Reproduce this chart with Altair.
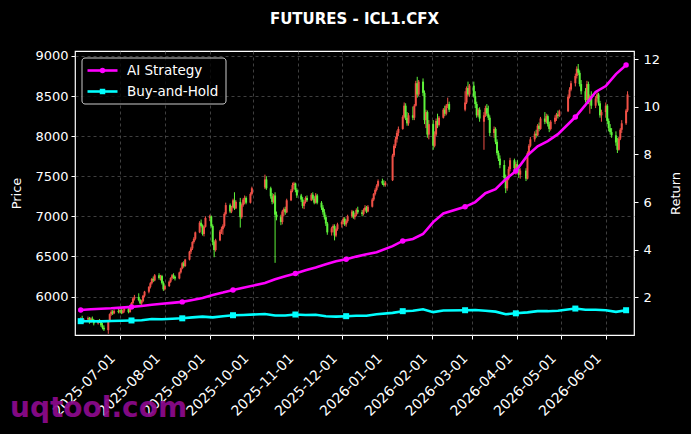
import altair as alt
import pandas as pd

# ---------------- data ----------------
START, END = "2025-06-04", "2026-06-16"
HOLIDAYS = ["2025-10-01", "2025-10-02", "2025-10-03", "2025-10-06", "2025-10-07", "2025-10-08",
            "2026-01-01", "2026-01-02", "2026-02-16", "2026-02-17", "2026-02-18", "2026-02-19",
            "2026-02-20", "2026-02-23", "2026-04-06", "2026-05-01", "2026-05-04", "2026-05-05"]

# (open, high, low, close) per trading day, month by month
ohlc_2025_06 = [(5690,5740,5660,5720),(5720,5760,5690,5700),(5700,5730,5670,5715),(5715,5750,5690,5730),(5730,5745,5660,5680),
                (5680,5740,5670,5725),(5725,5750,5690,5700),(5700,5720,5640,5665),(5665,5710,5650,5695),(5695,5720,5670,5690),
                (5690,5700,5620,5640),(5640,5670,5590,5610),(5610,5640,5570,5590),(5580,5700,5535,5690),(5690,5790,5680,5780),
                (5780,5830,5760,5810),(5810,5830,5770,5790),(5790,5840,5780,5820),(5820,5850,5790,5810)]
ohlc_2025_07 = [(5810,5840,5790,5830),(5830,5850,5780,5795),(5795,5840,5785,5825),(5825,5860,5800,5845),(5845,5860,5790,5805),
                (5805,5860,5800,5850),(5850,5930,5840,5920),(5920,5990,5900,5975),(5975,6020,5950,5995),(5995,6040,5940,5955),
                (5955,5970,5900,5915),(5915,5960,5890,5945),(5945,6020,5930,6010),(6010,6070,5990,6060),(6060,6130,6040,6120),
                (6120,6180,6100,6165),(6165,6230,6150,6220),(6220,6250,6180,6200),(6200,6280,6190,6265),(6265,6290,6210,6230),
                (6230,6270,6200,6255),(6255,6270,6150,6170),(6170,6190,6070,6090)]
ohlc_2025_08 = [(6090,6150,6075,6130),(6130,6200,6120,6185),(6185,6240,6170,6230),(6230,6280,6210,6265),(6265,6290,6220,6245),
                (6245,6260,6200,6225),(6225,6310,6215,6300),(6300,6360,6285,6350),(6350,6430,6340,6415),(6415,6440,6360,6380),
                (6380,6470,6370,6460),(6460,6570,6450,6560),(6560,6620,6530,6600),(6600,6690,6580,6680),(6680,6740,6660,6720),
                (6720,6810,6700,6800),(6800,6940,6790,6920),(6920,6960,6860,6880),(6880,6900,6760,6780),(6780,6890,6750,6870),
                (6870,7000,6860,6980)]
ohlc_2025_09 = [(6980,7020,6940,7000),(7000,7010,6860,6880),(6880,6900,6640,6680),(6680,6700,6490,6580),(6580,6720,6560,6700),
                (6700,6830,6690,6810),(6810,6870,6780,6840),(6840,6900,6770,6880),(6880,7050,6860,7030),(7030,7170,7010,7140),
                (7140,7160,7040,7060),(7060,7130,7040,7110),(7110,7220,7100,7200),(7200,7300,7080,7100),(7100,7200,7090,7180),
                (7180,7230,6860,6990),(6990,7160,6970,7140),(7140,7230,7120,7210),(7210,7260,7150,7230),(7230,7250,7150,7170),
                (7170,7300,7160,7280),(7280,7370,7260,7350)]
ohlc_2025_10 = [(7360,7520,7340,7460),(7460,7500,7330,7350),(7350,7370,7220,7250),(7250,7290,7150,7180),(7180,7280,7160,7260),
                (7260,7300,6420,7020),(7020,7060,6950,6990),(6990,7020,6890,6930),(6930,7080,6900,7060),(7060,7110,7000,7090),
                (7090,7120,7020,7050),(7050,7220,7040,7200),(7200,7340,7190,7320),(7320,7420,7300,7390),(7390,7430,7340,7410),
                (7410,7420,7300,7330),(7330,7350,7230,7260)]
ohlc_2025_11 = [(7260,7280,7180,7210),(7210,7240,7100,7130),(7130,7200,7090,7180),(7180,7250,7160,7230),(7230,7260,7180,7200),
                (7200,7290,7190,7270),(7270,7300,7200,7220),(7220,7250,7150,7170),(7170,7290,7160,7260),(7260,7280,7150,7170),
                (7170,7190,7080,7110),(7110,7140,7020,7050),(7050,7090,6960,6990),(6990,7020,6880,6910),(6910,6930,6770,6800),
                (6800,6870,6760,6850),(6850,6900,6800,6880),(6880,6900,6700,6760),(6760,6860,6740,6840),(6840,6920,6820,6900)]
ohlc_2025_12 = [(6900,6950,6860,6930),(6930,6990,6900,6970),(6970,6990,6880,6900),(6900,6960,6870,6940),(6940,7020,6920,7000),
                (7000,7080,6980,7060),(7060,7070,6970,6990),(6990,7040,6960,7020),(7020,7100,7000,7080),(7080,7120,7030,7050),
                (7050,7080,7000,7030),(7030,7100,7010,7080),(7080,7140,7060,7110),(7110,7130,7040,7060),(7060,7140,7050,7120),
                (7120,7230,7110,7210),(7210,7290,7190,7280),(7280,7350,7260,7330),(7330,7400,7310,7380),(7380,7460,7360,7440),
                (7440,7470,7390,7410),(7410,7450,7370,7390),(7390,7440,7370,7420)]
ohlc_2026_01 = [(7450,7780,7440,7760),(7760,7900,7740,7880),(7880,7990,7850,7960),(7960,8070,7920,8040),(8040,8120,8000,8090),
                (8090,8260,8080,8240),(8240,8420,8220,8380),(8380,8410,8200,8230),(8230,8300,8130,8160),(8160,8290,8130,8260),
                (8260,8370,8200,8230),(8230,8400,8200,8380),(8380,8690,8370,8660),(8660,8740,8480,8520),(8520,8700,8500,8680),
                (8680,8720,8500,8540),(8540,8570,8150,8200),(8200,8330,8100,8300),(8300,8320,7980,8020),(8020,8200,7960,8150)]
ohlc_2026_02 = [(8150,8200,7830,7880),(7880,8060,7860,8020),(8020,8220,8000,8190),(8190,8280,8100,8140),(8140,8250,8120,8230),
                (8230,8350,8220,8330),(8330,8380,8250,8280),(8280,8400,8260,8380),(8380,8480,8350,8400),(8400,8430,8300,8330),
                (8330,8560,8310,8420),(8420,8620,8400,8600),(8600,8680,8500,8520),(8520,8650,8490,8630)]
ohlc_2026_03 = [(8630,8680,8480,8500),(8500,8560,8350,8400),(8400,8430,8230,8260),(8260,8350,8240,8330),(8330,8360,8180,8220),
                (8180,8300,7830,8260),(8260,8380,8240,8350),(8350,8400,8250,8280),(8280,8380,8200,8230),(8230,8260,8000,8040),
                (8040,8120,7980,8090),(8090,8110,7900,7930),(7930,7960,7760,7790),(7790,7820,7690,7720),(7720,7760,7600,7640),
                (7640,7700,7450,7480),(7480,7520,7290,7350),(7350,7500,7320,7470),(7470,7620,7450,7590),(7590,7730,7560,7700),
                (7700,7720,7560,7600),(7600,7680,7520,7650)]
ohlc_2026_04 = [(7650,7700,7560,7590),(7590,7640,7480,7520),(7520,7600,7470,7570),(7570,7600,7440,7470),(7470,7810,7460,7790),
                (7790,7900,7760,7880),(7880,7990,7860,7960),(7960,8060,7930,8030),(8030,8080,7980,8010),(8010,8150,8000,8130),
                (8130,8170,8060,8090),(8090,8240,8080,8220),(8220,8300,8150,8180),(8180,8280,8160,8250),(8250,8270,8120,8150),
                (8150,8180,8050,8090),(8090,8200,8070,8180),(8180,8260,8150,8230),(8230,8290,8190,8270),(8270,8320,8220,8250),
                (8250,8330,8240,8310)]
ohlc_2026_05 = [(8310,8520,8300,8490),(8490,8610,8470,8580),(8580,8690,8560,8660),(8660,8780,8620,8750),(8750,8870,8720,8840),
                (8840,8900,8760,8790),(8790,8820,8620,8650),(8650,8700,8520,8560),(8560,8600,8420,8450),(8450,8690,8430,8650),
                (8650,8680,8400,8430),(8430,8520,8280,8500),(8500,8560,8340,8380),(8380,8500,8350,8470),(8470,8560,8430,8520),
                (8520,8540,8380,8410),(8410,8440,8230,8260),(8260,8330,8180,8300)]
ohlc_2026_06 = [(8300,8420,8230,8380),(8380,8400,8150,8190),(8190,8220,8060,8100),(8100,8150,8020,8050),(8050,8100,7980,8010),
                (8010,8060,7880,7920),(7920,7980,7790,7830),(7830,7990,7820,7970),(7970,8100,7950,8080),(8080,8200,8040,8160),
                (8160,8340,8140,8320),(8320,8560,8300,8520)]

# strategy curves, sampled every 5th trading day (plus the last day)
ai_return = [1.47, 1.50, 1.52, 1.54, 1.57, 1.60, 1.64, 1.69, 1.73, 1.77, 1.81, 1.89, 1.97, 2.10, 2.20, 2.31, 2.40,
             2.60, 2.76, 2.89, 3.00, 3.14, 3.25, 3.39, 3.52, 3.60, 3.71, 3.81, 3.89, 4.15, 4.37, 4.45, 4.66, 5.16,
             5.52, 5.80, 6.00, 6.37, 6.54, 6.96, 7.30, 7.96, 8.34, 8.56, 8.85, 9.57, 10.08, 10.62, 10.87, 11.37,
             11.75, 11.78]
bh_return = [1.00, 1.00, 0.99, 1.01, 1.02, 1.03, 1.04, 1.09, 1.08, 1.10, 1.12, 1.16, 1.19, 1.16, 1.21, 1.25, 1.26,
             1.30, 1.24, 1.24, 1.28, 1.26, 1.27, 1.21, 1.19, 1.21, 1.23, 1.23, 1.29, 1.35, 1.42, 1.44, 1.50, 1.38,
             1.45, 1.46, 1.47, 1.44, 1.40, 1.29, 1.33, 1.37, 1.42, 1.42, 1.44, 1.53, 1.48, 1.48, 1.46, 1.39, 1.46,
             1.49]

series_names = ["AI Strategy", "Buy-and-Hold"]
series_colors = ["#ff00ff", "#00ffff"]
tick_dates = ["2025-07-01", "2025-08-01", "2025-09-01", "2025-10-01", "2025-11-01", "2025-12-01",
              "2026-01-01", "2026-02-01", "2026-03-01", "2026-04-01", "2026-05-01", "2026-06-01"]
price_ticks = [6000, 6500, 7000, 7500, 8000, 8500, 9000]
return_ticks = [2, 4, 6, 8, 10, 12]
title_text = "FUTURES - ICL1.CFX"
watermark = "uqtool.com"

# ---------------- build tables ----------------
days = [d for d in pd.bdate_range(START, END) if d.strftime("%Y-%m-%d") not in HOLIDAYS]
ohlc = (ohlc_2025_06 + ohlc_2025_07 + ohlc_2025_08 + ohlc_2025_09 + ohlc_2025_10 + ohlc_2025_11 +
        ohlc_2025_12 + ohlc_2026_01 + ohlc_2026_02 + ohlc_2026_03 + ohlc_2026_04 + ohlc_2026_05 + ohlc_2026_06)
n = min(len(days), len(ohlc))


def ms(s):
    return int(pd.Timestamp(s, tz="UTC").value // 10**6)


candles = pd.DataFrame({
    "t": [ms(d.strftime("%Y-%m-%d")) for d in days[:n]],
    "open": [r[0] for r in ohlc[:n]],
    "high": [r[1] for r in ohlc[:n]],
    "low": [r[2] for r in ohlc[:n]],
    "close": [r[3] for r in ohlc[:n]],
})

idx = list(range(0, n, 5))
if idx[-1] != n - 1:
    idx.append(n - 1)
m = min(len(idx), len(ai_return), len(bh_return))
lines = pd.DataFrame({
    "t": [ms(days[i].strftime("%Y-%m-%d")) for i in idx[:m]],
    "ai": ai_return[:m],
    "bh": bh_return[:m],
})
markers = lines.iloc[::5].reset_index(drop=True)

# x: a linear axis in UTC milliseconds, labelled as dates
x_scale = alt.Scale(domain=[ms("2025-06-03 12:00"), ms("2026-06-17 00:00")], nice=False, zero=False)
x_axis = alt.Axis(values=[ms(t) for t in tick_dates],
                  labelExpr="utcFormat(datum.value, '%Y-%m-%d')",
                  labelAngle=315, labelAlign="right", labelBaseline="top",
                  labelPadding=12, labelOffset=-12, labelFontSize=14,
                  grid=True, title=None, labelFlush=False, labelOverlap=False)
X = alt.X("t:Q", scale=x_scale, axis=x_axis)

price_scale = alt.Scale(domain=[5520, 9062], nice=False, zero=False)
price_axis = alt.Axis(values=price_ticks, format="d", title="Price", orient="left", grid=True,
                      labelPadding=3, titlePadding=11)
ret_scale = alt.Scale(domain=[0.42, 12.34], nice=False, zero=False)
ret_axis = alt.Axis(values=return_ticks, format="d", title="Return", orient="right", grid=False,
                    labelPadding=5, titlePadding=23, titleAngle=270)

UP, DOWN = "#ef5046", "#5df23a"
col = alt.condition("datum.close >= datum.open", alt.value(UP), alt.value(DOWN))

wick = alt.Chart(candles).mark_rule(strokeWidth=1).encode(
    x=X, y=alt.Y("low:Q", scale=price_scale, axis=price_axis), y2="high:Q", color=col)
body = alt.Chart(candles).mark_bar(size=2).encode(
    x=X, y=alt.Y("open:Q", scale=price_scale, axis=price_axis), y2="close:Q", color=col)
candle_layer = alt.layer(wick, body)

ai_line = alt.Chart(lines).mark_line(color=series_colors[0], strokeWidth=2.6).encode(
    x=X, y=alt.Y("ai:Q", scale=ret_scale, axis=ret_axis))
bh_line = alt.Chart(lines).mark_line(color=series_colors[1], strokeWidth=2.6).encode(
    x=X, y=alt.Y("bh:Q", scale=ret_scale, axis=ret_axis))
ai_pts = alt.Chart(markers).mark_point(shape="circle", filled=True, size=30, opacity=1,
                                       color=series_colors[0]).encode(
    x=X, y=alt.Y("ai:Q", scale=ret_scale, axis=ret_axis))
bh_pts = alt.Chart(markers).mark_point(shape="square", filled=True, size=36, opacity=1,
                                       color=series_colors[1]).encode(
    x=X, y=alt.Y("bh:Q", scale=ret_scale, axis=ret_axis))
line_layer = alt.layer(ai_line, bh_line, ai_pts, bh_pts)

# legend (drawn by hand to show line + marker)
one = pd.DataFrame({"k": [0]})
leg_box = alt.Chart(one).mark_rect(fill="black", fillOpacity=0.8, stroke="#cccccc", strokeWidth=1,
                                   cornerRadius=3).encode(
    x=alt.value(7), x2=alt.value(151), y=alt.value(7), y2=alt.value(53))
leg_parts = [leg_box]
for i, (name, c, shp) in enumerate(zip(series_names, series_colors, ["circle", "square"])):
    yy = 19.5 + i * 21
    leg_parts.append(alt.Chart(one).mark_rule(color=c, strokeWidth=2.6).encode(
        x=alt.value(12.5), x2=alt.value(42.5), y=alt.value(yy)))
    leg_parts.append(alt.Chart(one).mark_point(shape=shp, filled=True, opacity=1, size=30, color=c).encode(
        x=alt.value(27.5), y=alt.value(yy)))
    leg_parts.append(alt.Chart(one).mark_text(text=name, color="white", fontSize=13.5, align="left",
                                              baseline="middle").encode(
        x=alt.value(52), y=alt.value(yy)))

title_mark = alt.Chart(one).mark_text(text=title_text, color="white", fontSize=15, fontWeight="bold",
                                      align="center", baseline="alphabetic").encode(
    x=alt.value(279.5), y=alt.value(-27.5))

wm = alt.Chart(one).mark_text(text=watermark, color="#8a0a8a", fontSize=28, fontWeight="bold",
                              align="left", baseline="alphabetic", opacity=0.95).encode(
    x=alt.value(-65), y=alt.value(366))

chart = alt.layer(candle_layer, line_layer, *leg_parts, title_mark, wm).resolve_scale(
    y="independent"
).properties(
    width=559, height=284,
    padding={"left": 75, "top": 51, "right": 57, "bottom": 99},
    autosize=alt.AutoSizeParams(type="none"),
).configure(background="black", font="DejaVu Sans").configure_view(
    stroke="white", strokeWidth=1.2
).configure_axis(
    labelColor="white", titleColor="white", tickColor="white", domain=False,
    labelFontSize=13, titleFontSize=13, titleFontWeight="normal", tickSize=4,
    gridColor="#5a5a5a", gridDash=[3, 3], gridWidth=0.7, labelFont="DejaVu Sans", titleFont="DejaVu Sans"
)

chart.save("out.html", embed_options={"renderer": "svg", "actions": False})
